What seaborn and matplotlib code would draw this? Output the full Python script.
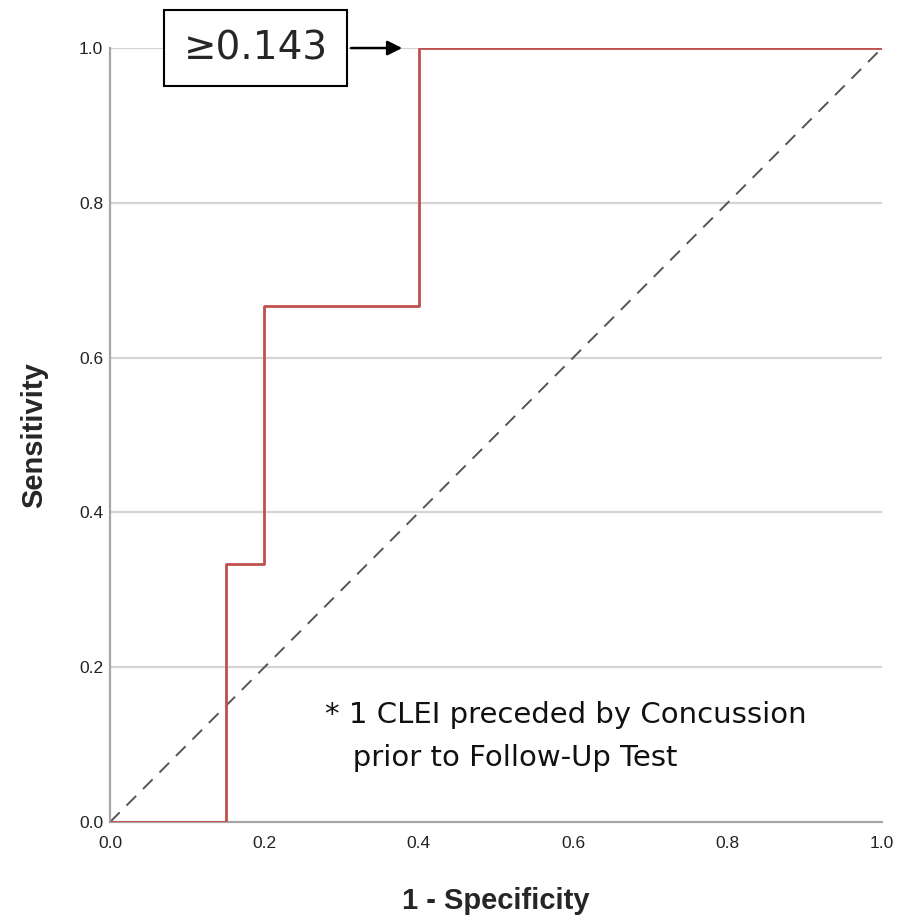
import matplotlib

matplotlib.use("Agg")
import matplotlib.pyplot as plt
import pandas as pd
import seaborn as sns

FPR = [0.0, 0.15, 0.15, 0.2, 0.2, 0.4, 0.4, 1.0]
TPR = [0.0, 0.0, 0.333, 0.333, 0.667, 0.667, 1.0, 1.0]
REF_LINE = [0.0, 1.0]
TICKS = [0.0, 0.2, 0.4, 0.6, 0.8, 1.0]
TICK_LABELS = ["0.0", "0.2", "0.4", "0.6", "0.8", "1.0"]
CUTOFF_LABEL = "\u22650.143"
CUTOFF_POINT = (0.382, 1.0)
CUTOFF_TEXT_POS = (0.189, 1.0)
NOTE = "* 1 CLEI preceded by Concussion\n   prior to Follow-Up Test"

RED = "#c0504d"


def main() -> None:
    sns.set_theme(style="white")
    plt.rcParams["font.family"] = ["Liberation Sans", "DejaVu Sans"]

    fig = plt.figure(figsize=(8.99, 9.15), dpi=100)
    ax = fig.add_axes([0.1224, 0.1016, 0.8587, 0.8459])

    roc = pd.DataFrame({"fpr": FPR, "tpr": TPR})
    ref = pd.DataFrame({"x": REF_LINE, "y": REF_LINE})

    for y in TICKS[1:]:
        ax.axhline(y, color="#d4d4d4", lw=1.6, zorder=0)

    sns.lineplot(
        data=ref, x="x", y="y", ax=ax, color="#555555", lw=1.4,
        dashes=False, linestyle=(0, (7, 5)), zorder=2,
    )
    sns.lineplot(
        data=roc, x="fpr", y="tpr", ax=ax, sort=False, estimator=None,
        color=RED, lw=2.0, zorder=3,
    )

    ax.set_xlim(0, 1)
    ax.set_ylim(0, 1)
    ax.margins(0)
    ax.set_xticks(TICKS)
    ax.set_xticklabels(TICK_LABELS, fontsize=12.5, color="#222222")
    ax.set_yticks(TICKS)
    ax.set_yticklabels(TICK_LABELS, fontsize=12.5, color="#222222")
    ax.tick_params(length=0)
    ax.tick_params(axis="x", pad=10)
    ax.tick_params(axis="y", pad=5)

    ax.set_xlabel("1 - Specificity", fontsize=21, fontweight="bold", labelpad=26)
    ax.set_ylabel("Sensitivity", fontsize=21, fontweight="bold", labelpad=22)

    for side in ["top", "right"]:
        ax.spines[side].set_visible(False)
    for side in ["left", "bottom"]:
        ax.spines[side].set_color("#a6a6a6")
        ax.spines[side].set_linewidth(1.6)

    ax.annotate(
        CUTOFF_LABEL,
        xy=CUTOFF_POINT,
        xytext=CUTOFF_TEXT_POS,
        ha="center",
        va="center",
        fontsize=28,
        family=["DejaVu Sans"],
        annotation_clip=False,
        bbox=dict(boxstyle="square,pad=0.5", fc="white", ec="black", lw=1.5),
        arrowprops=dict(arrowstyle="-|>", color="black", lw=1.8, mutation_scale=22),
        zorder=5,
    )

    ax.text(
        0.278, 0.156, NOTE, fontsize=21, va="top", ha="left",
        family=["DejaVu Sans"], linespacing=1.68, color="#111111",
    )

    fig.savefig("out.png", dpi=100)
    plt.close(fig)


if __name__ == "__main__":
    main()
